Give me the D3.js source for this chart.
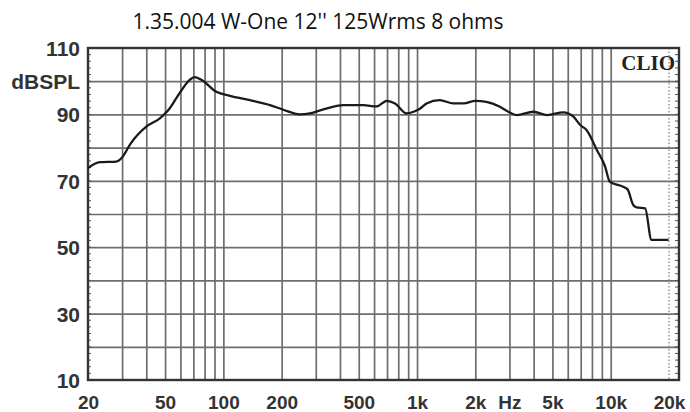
<!DOCTYPE html>
<html>
<head>
<meta charset="utf-8">
<script src="https://cdn.jsdelivr.net/npm/d3@7"></script>
<style>
  body { margin: 0; background: #fff; }
  svg { display: block; }
</style>
</head>
<body>
<div id="chart"></div>
<script>
// frequency response
const freqHz = [20, 23, 28, 30, 33, 40, 47, 52, 60, 67, 71, 77, 92, 108, 137, 174, 204, 248, 280, 328,
  416, 528, 618, 698, 770, 884, 960, 1040, 1120, 1310, 1540, 1740, 2000, 2280, 2680, 2960, 3270,
  3990, 4690, 5700, 6420, 6960, 7500, 8480, 9360, 9900, 11600, 12200, 13080, 13600, 15060, 16240, 19900]
const splDb = [73.8, 75.6, 75.8, 77.0, 81.0, 86.3, 88.8, 91.3, 96.8, 100.4, 101.2, 100.4, 96.8, 95.6, 94.3, 92.8, 91.4, 90.0, 90.3, 91.5,
  92.8, 92.8, 92.4, 94.1, 93.3, 90.3, 90.8, 91.8, 93.3, 94.3, 93.3, 93.3, 94.1, 93.8, 92.3, 90.8, 89.8,
  90.8, 89.8, 90.6, 89.3, 86.8, 85.3, 79.3, 74.3, 69.7, 68.2, 67.5, 62.7, 62.0, 61.7, 52.2, 52.2]

const xTickValues = [20, 50, 100, 200, 500, 1000, 2000, 3000, 5000, 10000, 20000]
const xTickLabels = ['20', '50', '100', '200', '500', '1k', '2k', 'Hz', '5k', '10k', '20k']
const yTickValues = [110, 100, 90, 70, 50, 30, 10]
const yTickLabels = ['110', 'dBSPL', '90', '70', '50', '30', '10']
const xGridValues = [30, 40, 50, 60, 70, 80, 90, 100, 200, 300, 400, 500, 600, 700, 800, 900,
  1000, 2000, 3000, 4000, 5000, 6000, 7000, 8000, 9000, 10000]
const yGridValues = [20, 30, 40, 50, 60, 70, 80, 90, 100]

const titleText = "1.35.004 W-One 12'' 125Wrms 8 ohms"

const width = 690, height = 412
const plot = {left: 88, right: 669, frameRight: 679, top: 48, bottom: 380}

const svg = d3.select('#chart').append('svg')
  .attr('width', width)
  .attr('height', height)

const xScale = d3.scaleLog().domain([20, 20000]).range([plot.left, plot.right])
const yScale = d3.scaleLinear().domain([10, 110]).range([plot.bottom, plot.top])

// grid
const xGrid = d3.axisBottom(xScale)
  .tickValues(xGridValues)
  .tickSize(-(plot.bottom - plot.top))
  .tickFormat('')
const yGrid = d3.axisLeft(yScale)
  .tickValues(yGridValues)
  .tickSize(-(plot.frameRight - plot.left))
  .tickFormat('')
svg.append('g')
  .attr('transform', `translate(0, ${plot.bottom})`)
  .call(xGrid)
  .call(g => g.select('.domain').remove())
  .selectAll('line').attr('stroke', '#6e6e6e').attr('stroke-width', 1.7)
svg.append('g')
  .attr('transform', `translate(${plot.left}, 0)`)
  .call(yGrid)
  .call(g => g.select('.domain').remove())
  .selectAll('line').attr('stroke', '#6e6e6e').attr('stroke-width', 1.7)

// 20k line is dotted
svg.append('line')
  .attr('x1', xScale(20000)).attr('x2', xScale(20000))
  .attr('y1', plot.top).attr('y2', plot.bottom)
  .attr('stroke', '#888').attr('stroke-width', 1.3).attr('stroke-dasharray', '1.5,2')

// little minor ticks along left/right frame
const minor = d3.range(10, 111, 2)
svg.append('g').selectAll('line.ml').data(minor).join('line')
  .attr('x1', plot.left).attr('x2', plot.left + 3)
  .attr('y1', d => yScale(d)).attr('y2', d => yScale(d))
  .attr('stroke', '#555').attr('stroke-width', 1)
svg.append('g').selectAll('line.mr').data(minor).join('line')
  .attr('x1', plot.frameRight - 4).attr('x2', plot.frameRight)
  .attr('y1', d => yScale(d)).attr('y2', d => yScale(d))
  .attr('stroke', '#555').attr('stroke-width', 1)

// frame
svg.append('rect')
  .attr('x', plot.left).attr('y', plot.top)
  .attr('width', plot.frameRight - plot.left)
  .attr('height', plot.bottom - plot.top)
  .attr('fill', 'none').attr('stroke', '#333').attr('stroke-width', 2.4)

// curve
const line = d3.line()
  .x(d => xScale(d[0]))
  .y(d => yScale(d[1]))
  .curve(d3.curveMonotoneX)
svg.append('path')
  .datum(d3.zip(freqHz, splDb))
  .attr('d', line)
  .attr('fill', 'none')
  .attr('stroke', '#1a1a1a')
  .attr('stroke-width', 2.3)
  .attr('stroke-linejoin', 'round')

// axis labels
const xAxis = d3.axisBottom(xScale)
  .tickValues(xTickValues)
  .tickFormat((d, i) => xTickLabels[i])
  .tickSize(0)
  .tickPadding(0)
svg.append('g')
  .attr('transform', `translate(0, ${plot.bottom})`)
  .call(xAxis)
  .call(g => g.select('.domain').remove())
  .selectAll('text')
  .attr('y', 29).attr('dy', 0)
  .attr('font-family', '"Liberation Sans", Arial, sans-serif')
  .attr('font-weight', 'bold')
  .attr('font-size', 19)
  .attr('fill', '#333')

const yAxis = d3.axisLeft(yScale)
  .tickValues(yTickValues)
  .tickFormat((d, i) => yTickLabels[i])
  .tickSize(0)
  .tickPadding(8)
svg.append('g')
  .attr('transform', `translate(${plot.left}, 0)`)
  .call(yAxis)
  .call(g => g.select('.domain').remove())
  .selectAll('text')
  .attr('dy', '0.36em')
  .attr('font-family', '"Liberation Sans", Arial, sans-serif')
  .attr('font-weight', 'bold')
  .attr('font-size', 21)
  .attr('fill', '#333')

// title
svg.append('text')
  .attr('x', 318).attr('y', 29)
  .attr('text-anchor', 'middle')
  .attr('font-family', '"Open Sans", sans-serif')
  .attr('font-size', 21)
  .attr('fill', '#111')
  .text(titleText)

// CLIO mark
svg.append('text')
  .attr('x', 675).attr('y', 70)
  .attr('text-anchor', 'end')
  .attr('font-family', '"Liberation Serif", serif')
  .attr('font-weight', 'bold')
  .attr('font-size', 21)
  .attr('fill', '#222')
  .text('CLIO')
</script>
</body>
</html>
